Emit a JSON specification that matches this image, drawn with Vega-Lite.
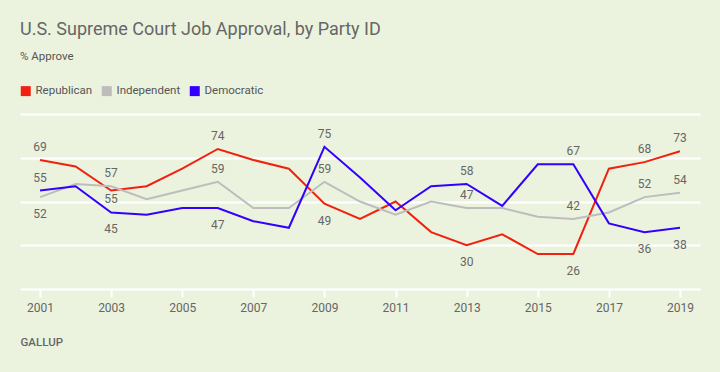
{
  "$schema": "https://vega.github.io/schema/vega-lite/v6.json",
  "width": 680,
  "height": 175,
  "autosize": "none",
  "padding": {"left": 20, "top": 114, "right": 20, "bottom": 83},
  "background": "#EBF3DE",
  "config": {"view": {"stroke": null}, "font": "Roboto"},
  "title": {
    "text": "U.S. Supreme Court Job Approval, by Party ID",
    "subtitle": "% Approve",
    "anchor": "start",
    "frame": "group",
    "fontSize": 18,
    "fontWeight": "normal",
    "color": "#666666",
    "subtitleFontSize": 11.5,
    "subtitleColor": "#555555",
    "subtitlePadding": 12,
    "offset": 23
  },
  "data": {
    "values": [
      {"year": 2001, "party": "Republican", "value": 69},
      {"year": 2002, "party": "Republican", "value": 66},
      {"year": 2003, "party": "Republican", "value": 55},
      {"year": 2004, "party": "Republican", "value": 57},
      {"year": 2005, "party": "Republican", "value": 65},
      {"year": 2006, "party": "Republican", "value": 74},
      {"year": 2007, "party": "Republican", "value": 69},
      {"year": 2008, "party": "Republican", "value": 65},
      {"year": 2009, "party": "Republican", "value": 49},
      {"year": 2010, "party": "Republican", "value": 42},
      {"year": 2011, "party": "Republican", "value": 50},
      {"year": 2012, "party": "Republican", "value": 36},
      {"year": 2013, "party": "Republican", "value": 30},
      {"year": 2014, "party": "Republican", "value": 35},
      {"year": 2015, "party": "Republican", "value": 26},
      {"year": 2016, "party": "Republican", "value": 26},
      {"year": 2017, "party": "Republican", "value": 65},
      {"year": 2018, "party": "Republican", "value": 68},
      {"year": 2019, "party": "Republican", "value": 73},
      {"year": 2001, "party": "Independent", "value": 52},
      {"year": 2002, "party": "Independent", "value": 58},
      {"year": 2003, "party": "Independent", "value": 57},
      {"year": 2004, "party": "Independent", "value": 51},
      {"year": 2005, "party": "Independent", "value": 55},
      {"year": 2006, "party": "Independent", "value": 59},
      {"year": 2007, "party": "Independent", "value": 47},
      {"year": 2008, "party": "Independent", "value": 47},
      {"year": 2009, "party": "Independent", "value": 59},
      {"year": 2010, "party": "Independent", "value": 50},
      {"year": 2011, "party": "Independent", "value": 44},
      {"year": 2012, "party": "Independent", "value": 50},
      {"year": 2013, "party": "Independent", "value": 47},
      {"year": 2014, "party": "Independent", "value": 47},
      {"year": 2015, "party": "Independent", "value": 43},
      {"year": 2016, "party": "Independent", "value": 42},
      {"year": 2017, "party": "Independent", "value": 45},
      {"year": 2018, "party": "Independent", "value": 52},
      {"year": 2019, "party": "Independent", "value": 54},
      {"year": 2001, "party": "Democratic", "value": 55},
      {"year": 2002, "party": "Democratic", "value": 57},
      {"year": 2003, "party": "Democratic", "value": 45},
      {"year": 2004, "party": "Democratic", "value": 44},
      {"year": 2005, "party": "Democratic", "value": 47},
      {"year": 2006, "party": "Democratic", "value": 47},
      {"year": 2007, "party": "Democratic", "value": 41},
      {"year": 2008, "party": "Democratic", "value": 38},
      {"year": 2009, "party": "Democratic", "value": 75},
      {"year": 2010, "party": "Democratic", "value": 61},
      {"year": 2011, "party": "Democratic", "value": 46},
      {"year": 2012, "party": "Democratic", "value": 57},
      {"year": 2013, "party": "Democratic", "value": 58},
      {"year": 2014, "party": "Democratic", "value": 48},
      {"year": 2015, "party": "Democratic", "value": 67},
      {"year": 2016, "party": "Democratic", "value": 67},
      {"year": 2017, "party": "Democratic", "value": 40},
      {"year": 2018, "party": "Democratic", "value": 36},
      {"year": 2019, "party": "Democratic", "value": 38}
    ]
  },
  "encoding": {
    "x": {
      "field": "year",
      "type": "quantitative",
      "scale": {"domain": [2000.4375, 2019.5625], "nice": false, "zero": false},
      "axis": {
        "values": [2001, 2003, 2005, 2007, 2009, 2011, 2013, 2015, 2017, 2019],
        "format": "d",
        "grid": false,
        "domain": false,
        "ticks": true,
        "tickColor": "#FFFFFF",
        "tickWidth": 2,
        "tickSize": 8,
        "labelColor": "#666666",
        "labelFontSize": 12,
        "labelPadding": 5,
        "title": "GALLUP",
        "titleAnchor": "start",
        "titleAlign": "left",
        "titleX": 0,
        "titleY": 56,
        "titleBaseline": "alphabetic",
        "titleFontSize": 11.5,
        "titleFontWeight": 500,
        "titleColor": "#666666"
      }
    },
    "y": {
      "field": "value",
      "type": "quantitative",
      "scale": {"domain": [10, 90], "nice": false, "zero": false},
      "axis": {
        "values": [10, 30, 50, 70, 90],
        "labels": false,
        "ticks": false,
        "domain": false,
        "grid": true,
        "gridColor": "#FFFFFF",
        "gridWidth": 2,
        "gridOpacity": 1,
        "title": null
      }
    }
  },
  "layer": [
    {
      "mark": {"type": "line", "strokeWidth": 2},
      "encoding": {
        "color": {
          "field": "party",
          "type": "nominal",
          "scale": {
            "domain": ["Republican", "Independent", "Democratic"],
            "range": ["#F0210F", "#BDBDBD", "#3300FF"]
          },
          "legend": {
            "title": null,
            "orient": "none",
            "legendX": 0,
            "legendY": -29,
            "direction": "horizontal",
            "symbolType": "square",
            "symbolSize": 1,
            "symbolStrokeWidth": 9,
            "symbolOpacity": 1,
            "labelFontSize": 11.5,
            "labelColor": "#555555",
            "labelOffset": 4,
            "columnPadding": -5
          }
        }
      }
    },
    {
      "transform": [
        {"filter": "indexof(['2001|Republican','2001|Democratic','2003|Independent','2006|Republican','2006|Independent','2009|Democratic','2009|Independent','2013|Democratic','2013|Independent','2016|Democratic','2016|Independent','2018|Republican','2018|Independent','2019|Republican','2019|Independent'], datum.year + '|' + datum.party) >= 0"}
      ],
      "mark": {"type": "text", "dy": -13, "baseline": "middle", "fontSize": 12, "color": "#666666"},
      "encoding": {"text": {"field": "value", "type": "quantitative"}}
    },
    {
      "transform": [
        {"filter": "indexof(['2001|Independent','2003|Democratic','2006|Democratic','2009|Republican','2013|Republican','2016|Republican','2018|Democratic','2019|Democratic'], datum.year + '|' + datum.party) >= 0"}
      ],
      "mark": {"type": "text", "dy": 17, "baseline": "middle", "fontSize": 12, "color": "#666666"},
      "encoding": {"text": {"field": "value", "type": "quantitative"}}
    },
    {
      "transform": [
        {"filter": "datum.year == 2003 && datum.party == 'Republican'"}
      ],
      "mark": {"type": "text", "dy": 8, "baseline": "middle", "fontSize": 12, "color": "#666666"},
      "encoding": {"text": {"field": "value", "type": "quantitative"}}
    }
  ]
}
